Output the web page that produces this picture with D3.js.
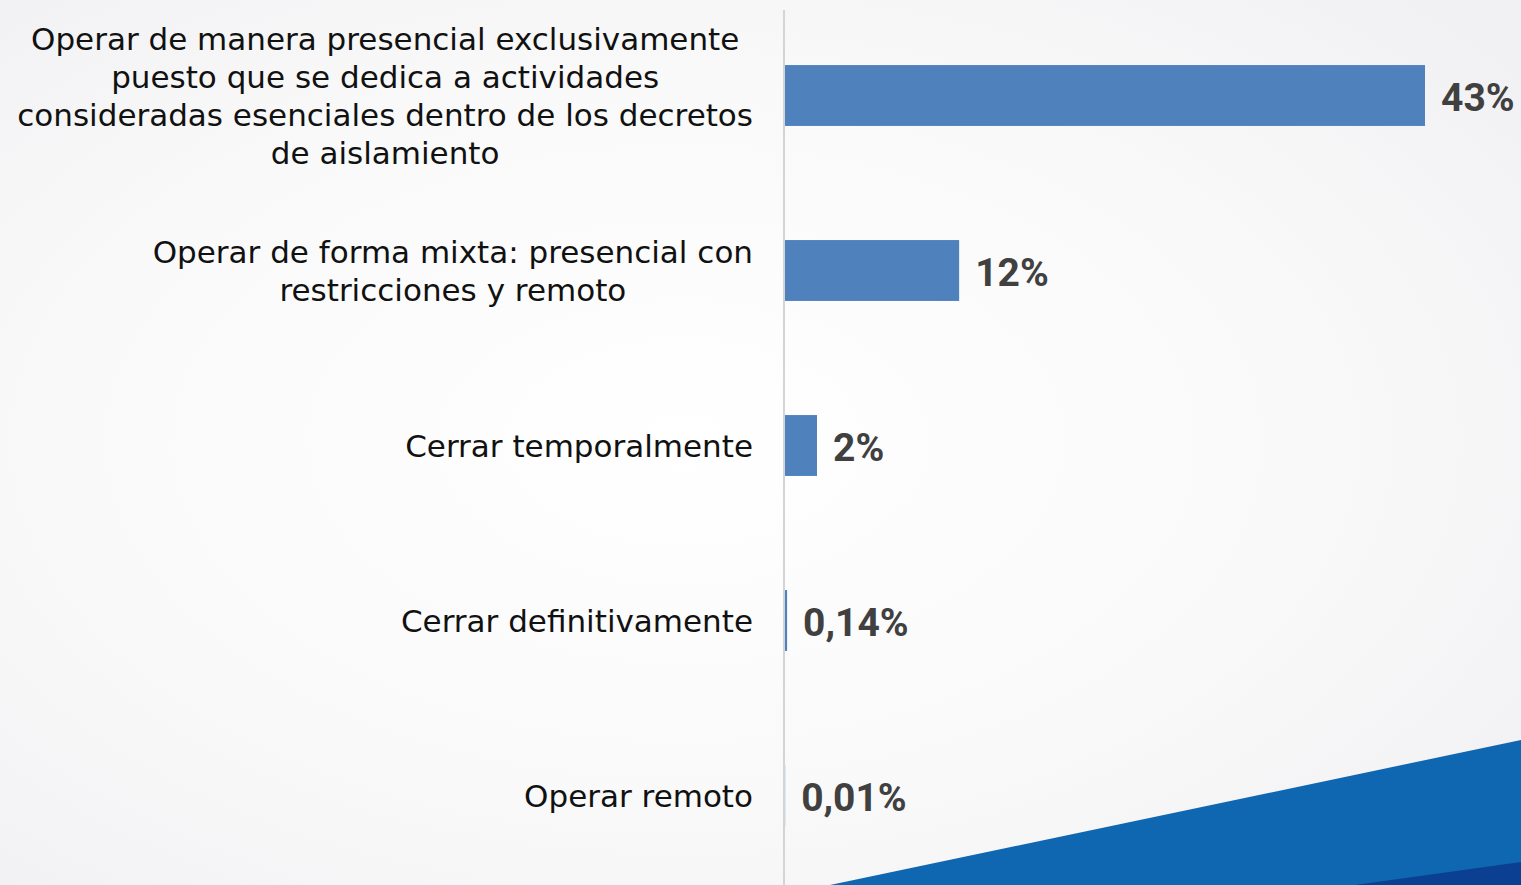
<!DOCTYPE html>
<html>
<head>
<meta charset="utf-8">
<script src="https://cdn.jsdelivr.net/npm/d3@7"></script>
<style>
  html, body { margin: 0; padding: 0; overflow: hidden; background: #f7f7f8; }
  svg { display: block; }
</style>
</head>
<body>
<svg id="chart" width="1521" height="885"></svg>
<script>
// ---- data ----
const categories = [
  ["Operar de manera presencial exclusivamente", "puesto que se dedica a actividades", "consideradas esenciales dentro de los decretos", "de aislamiento"],
  ["Operar de forma mixta: presencial con", "restricciones y remoto"],
  ["Cerrar temporalmente"],
  ["Cerrar definitivamente"],
  ["Operar remoto"]
];
const values = [43.0, 11.7, 2.15, 0.14, 0.01];
const valueLabels = ["43%", "12%", "2%", "0,14%", "0,01%"];

// ---- layout ----
const W = 1521, H = 885;
const axisX = 784;
const labelRight = 753;
const svg = d3.select("#chart");

const defs = svg.append("defs");
const rg = defs.append("radialGradient").attr("id", "bg")
  .attr("cx", "45%").attr("cy", "50%").attr("r", "70%");
rg.append("stop").attr("offset", "0%").attr("stop-color", "#ffffff");
rg.append("stop").attr("offset", "60%").attr("stop-color", "#f9f9fa");
rg.append("stop").attr("offset", "100%").attr("stop-color", "#f1f1f3");
svg.append("rect").attr("width", W).attr("height", H).attr("fill", "url(#bg)");

// decorative blue triangle bottom-right
svg.append("polygon")
  .attr("points", `830,${H} ${W},740 ${W},${H}`)
  .attr("fill", "#0f67b1");
svg.append("polygon")
  .attr("points", `1355,${H} ${W},862 ${W},${H}`)
  .attr("fill", "#0b3f92");

const y = d3.scaleBand()
  .domain(d3.range(categories.length))
  .range([8, 883])
  .paddingInner(0.652)
  .paddingOuter(0.326);

const x = d3.scaleLinear()
  .domain([0, 43])
  .range([axisX + 1, 1425]);

// bars
svg.append("g").selectAll("rect")
  .data(values)
  .join("rect")
  .attr("x", x(0))
  .attr("y", (d, i) => y(i))
  .attr("width", d => Math.max(0, x(d) - x(0)))
  .attr("height", y.bandwidth())
  .attr("fill", "#4f81bd");

// axis line
svg.append("line")
  .attr("x1", axisX).attr("x2", axisX)
  .attr("y1", 10).attr("y2", H)
  .attr("stroke", "#d4d4d4").attr("stroke-width", 2);

// category labels
const lineH = 38;
const catG = svg.append("g")
  .attr("font-family", "'DejaVu Sans', sans-serif")
  .attr("fill", "#111111");

// measure for font-size fit
let fs = 30;
const probe = catG.append("text").attr("font-size", fs).text("consideradas esenciales dentro de los decretos");
const pw = probe.node().getComputedTextLength();
probe.remove();
fs = Math.min(fs * 739 / pw, 31);

categories.forEach((lines, i) => {
  const cy = y(i) + y.bandwidth() / 2;
  const t = catG.append("text").attr("font-size", fs).attr("text-anchor", "middle");
  const tmp = lines.map(l => {
    const p = catG.append("text").attr("font-size", fs).text(l);
    const w = p.node().getComputedTextLength();
    p.remove();
    return w;
  });
  const maxW = d3.max(tmp);
  const cx = labelRight - maxW / 2;
  const n = lines.length;
  lines.forEach((l, k) => {
    t.append("tspan")
      .attr("x", cx)
      .attr("y", cy + (k - (n - 1) / 2) * lineH)
      .attr("dy", "0.38em")
      .text(l);
  });
});

// value labels
svg.append("g").selectAll("text")
  .data(values)
  .join("text")
  .attr("x", d => x(d) + 16)
  .attr("y", (d, i) => y(i) + y.bandwidth() / 2)
  .attr("dy", "0.4em")
  .attr("font-family", "Roboto, 'Open Sans', sans-serif")
  .attr("font-weight", "bold")
  .attr("font-size", 39)
  .attr("fill", "#404040")
  .text((d, i) => valueLabels[i]);
</script>
</body>
</html>
